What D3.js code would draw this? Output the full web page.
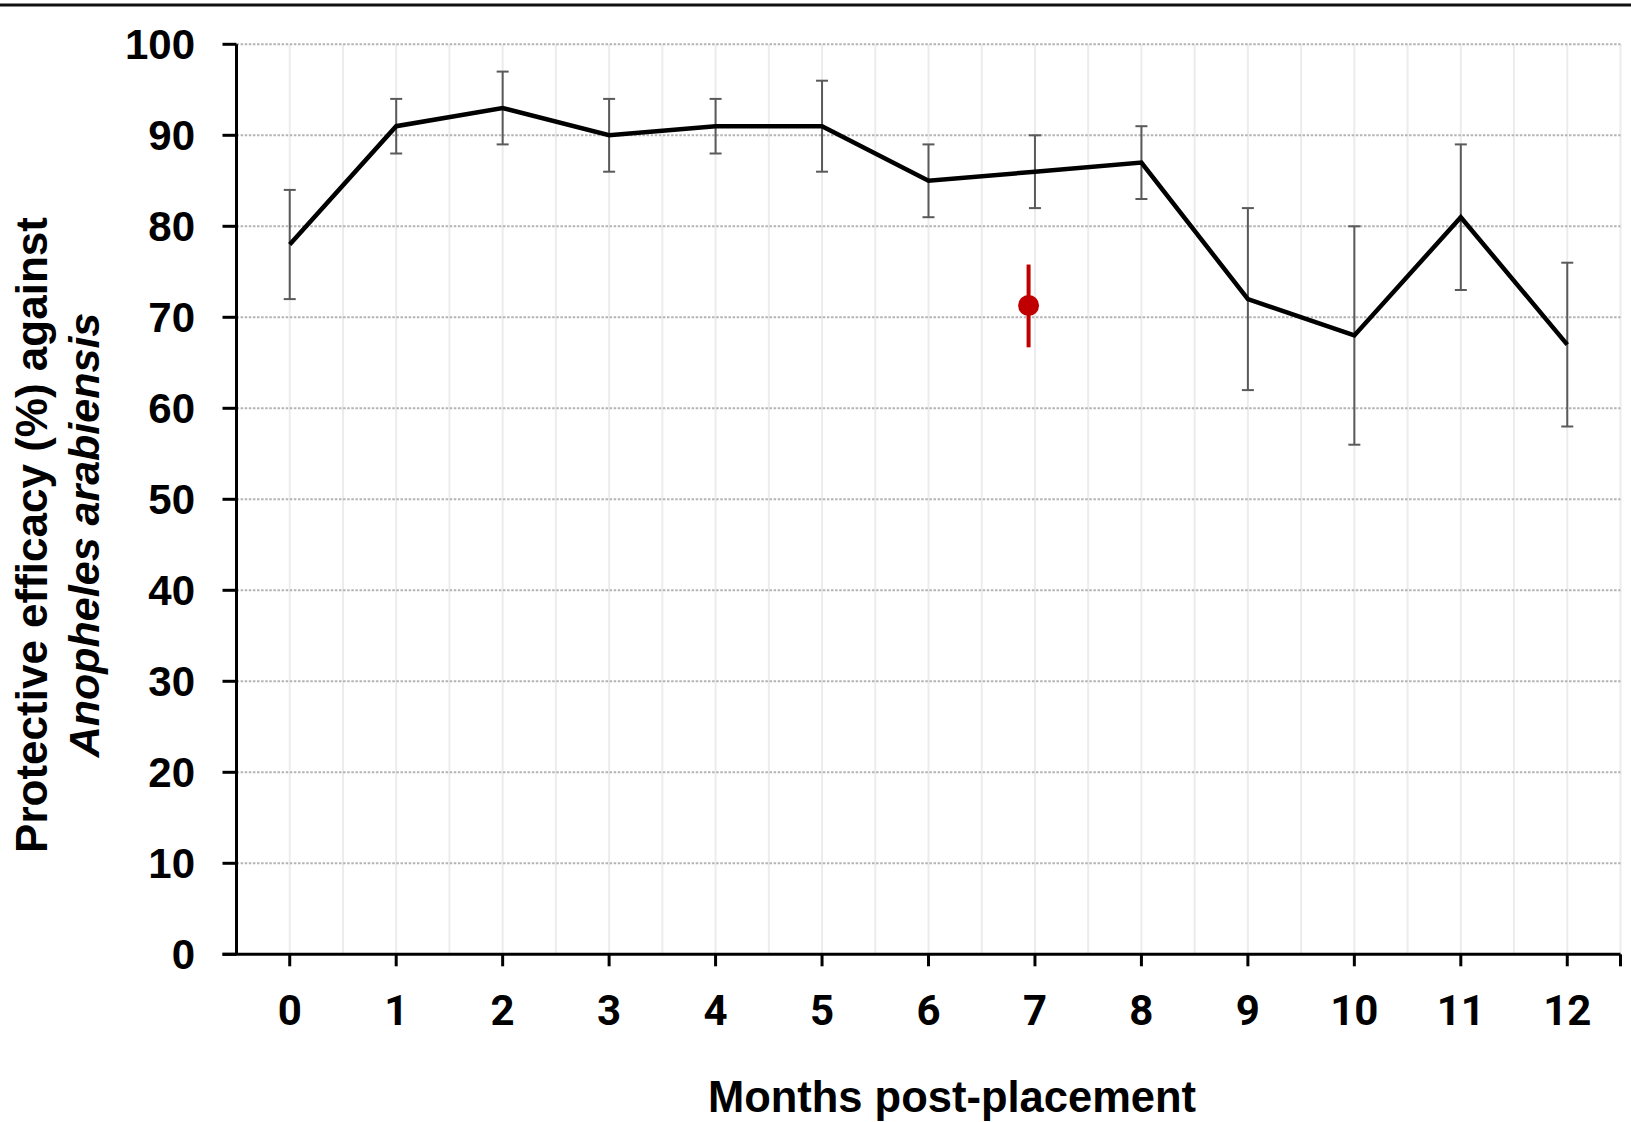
<!DOCTYPE html>
<html>
<head>
<meta charset="utf-8">
<script src="https://cdn.jsdelivr.net/npm/d3@7"></script>
<style>
  html, body { margin: 0; padding: 0; background: #fff; }
  svg { display: block; }
</style>
</head>
<body>
<svg id="chart" width="1631" height="1122"></svg>
<script>
// ---- data ----
const months = [0, 1, 2, 3, 4, 5, 6, 7, 8, 9, 10, 11, 12];
const efficacy = [78, 91, 93, 90, 91, 91, 85, 86, 87, 72, 68, 81, 67];
const lowerCI = [72, 88, 89, 86, 88, 86, 81, 82, 83, 62, 56, 73, 58];
const upperCI = [84, 94, 97, 94, 94, 96, 89, 90, 91, 82, 80, 89, 76];
const redMonth = [6.94];
const redValue = [71.3];
const redLower = [66.7];
const redUpper = [75.8];
const yTicks = [0, 10, 20, 30, 40, 50, 60, 70, 80, 90, 100];
const xTickLabels = ["0","1","2","3","4","5","6","7","8","9","10","11","12"];
const xTitle = "Months post-placement";
const yTitle1 = "Protective efficacy (%) against";
const yTitle2 = "Anopheles arabiensis";

// ---- layout ----
const svg = d3.select("#chart");
const plotL = 236.5, plotR = 1620.5, plotT = 44.3, plotB = 954.3;
const x = d3.scaleLinear().domain([-0.5, 12.5]).range([plotL, plotR]);
const y = d3.scaleLinear().domain([0, 100]).range([plotB, plotT]);
const font = "'Liberation Sans', Arial, sans-serif";

// top border line
svg.append("line").attr("x1", 0).attr("x2", 1631).attr("y1", 5).attr("y2", 5)
  .attr("stroke", "#111").attr("stroke-width", 3);

// vertical light gridlines (centres and band edges)
const vGrid = d3.range(0, 26).map(i => i / 2);
svg.append("g").selectAll("line").data(vGrid).join("line")
  .attr("x1", d => x(d)).attr("x2", d => x(d))
  .attr("y1", y(100)).attr("y2", y(0))
  .attr("stroke", "#ececec").attr("stroke-width", 2);

// horizontal dotted gridlines
svg.append("g").selectAll("line").data(yTicks.filter(d => d > 0)).join("line")
  .attr("x1", plotL).attr("x2", plotR)
  .attr("y1", d => y(d)).attr("y2", d => y(d))
  .attr("stroke", "#b4b4b4").attr("stroke-width", 2)
  .attr("stroke-dasharray", "2.5,1.6");

// y axis
svg.append("line").attr("x1", plotL).attr("x2", plotL).attr("y1", y(100)).attr("y2", y(0))
  .attr("stroke", "#000").attr("stroke-width", 3);
svg.append("g").selectAll("line").data(yTicks).join("line")
  .attr("x1", plotL - 14).attr("x2", plotL)
  .attr("y1", d => y(d)).attr("y2", d => y(d))
  .attr("stroke", "#000").attr("stroke-width", 3);
svg.append("g").selectAll("text").data(yTicks).join("text")
  .attr("x", 195).attr("y", d => y(d)).attr("dy", "0.36em")
  .attr("text-anchor", "end")
  .attr("font-family", font).attr("font-weight", "bold").attr("font-size", 42)
  .text(d => d);

// x axis
svg.append("line").attr("x1", plotL - 14).attr("x2", plotR).attr("y1", y(0)).attr("y2", y(0))
  .attr("stroke", "#000").attr("stroke-width", 3);
svg.append("g").selectAll("line").data(months.concat([12.5])).join("line")
  .attr("x1", d => x(d)).attr("x2", d => x(d))
  .attr("y1", y(0)).attr("y2", y(0) + 12)
  .attr("stroke", "#000").attr("stroke-width", 3);
svg.append("g").selectAll("text").data(months).join("text")
  .attr("x", d => x(d)).attr("y", 1025)
  .attr("text-anchor", "middle")
  .attr("font-family", "Roboto, 'Liberation Sans', sans-serif").attr("font-weight", "bold").attr("font-size", 42)
  .text((d, i) => xTickLabels[i]);

// axis titles
svg.append("text").attr("x", 952).attr("y", 1112)
  .attr("text-anchor", "middle")
  .attr("font-family", font).attr("font-weight", "bold").attr("font-size", 43.5)
  .text(xTitle);
svg.append("text").attr("transform", "translate(47,535) rotate(-90)")
  .attr("text-anchor", "middle")
  .attr("font-family", font).attr("font-weight", "bold").attr("font-size", 44)
  .text(yTitle1);
svg.append("text").attr("transform", "translate(99,535) rotate(-90)")
  .attr("text-anchor", "middle")
  .attr("font-family", font).attr("font-weight", "bold").attr("font-style", "italic").attr("font-size", 43)
  .text(yTitle2);

// error bars
const eb = svg.append("g").attr("stroke", "#5a5a5a").attr("stroke-width", 2);
months.forEach((m, i) => {
  const cx = x(m);
  eb.append("line").attr("x1", cx).attr("x2", cx).attr("y1", y(upperCI[i])).attr("y2", y(lowerCI[i]));
  eb.append("line").attr("x1", cx - 6).attr("x2", cx + 6).attr("y1", y(upperCI[i])).attr("y2", y(upperCI[i]));
  eb.append("line").attr("x1", cx - 6).attr("x2", cx + 6).attr("y1", y(lowerCI[i])).attr("y2", y(lowerCI[i]));
});

// main line
const line = d3.line().x((d, i) => x(months[i])).y(d => y(d));
svg.append("path").datum(efficacy).attr("d", line)
  .attr("fill", "none").attr("stroke", "#000").attr("stroke-width", 4.5)
  .attr("stroke-linejoin", "miter");

// red point with CI
const rg = svg.append("g");
redMonth.forEach((m, i) => {
  rg.append("line").attr("x1", x(m)).attr("x2", x(m))
    .attr("y1", y(redUpper[i])).attr("y2", y(redLower[i]))
    .attr("stroke", "#c00000").attr("stroke-width", 4);
  rg.append("circle").attr("cx", x(m)).attr("cy", y(redValue[i])).attr("r", 10.5)
    .attr("fill", "#c00000");
});
</script>
</body>
</html>
